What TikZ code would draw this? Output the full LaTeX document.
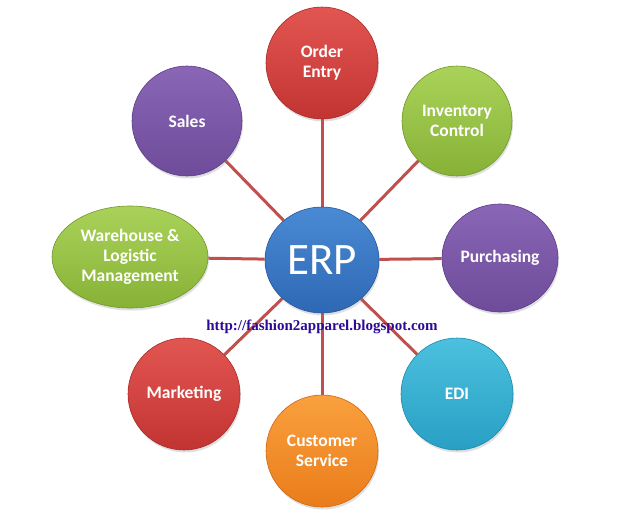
\documentclass[tikz,border=0pt]{standalone}
\usepackage{fontspec}
\setsansfont{Carlito}
\newfontfamily\blogfont{Liberation Serif}
\usetikzlibrary{shapes.geometric,shadows,backgrounds}

\definecolor{linkRed}{RGB}{192,80,77}
\definecolor{urlBlue}{RGB}{45,10,150}

\begin{document}
\begin{tikzpicture}[x=1pt,y=-1pt]
\tikzstyle{bubble}=[ellipse, inner sep=0pt, minimum width=112pt, minimum height=112pt, align=center, text=white, line width=0.6pt, font=\sffamily\bfseries\fontsize{17.5}{20}\selectfont, drop shadow={opacity=0.25, shadow xshift=1pt, shadow yshift=-2.5pt}]
\tikzstyle{redball}=[bubble, top color={rgb,255:red,226;green,86;blue,82}, bottom color={rgb,255:red,194;green,52;blue,50}, draw={rgb,255:red,170;green,40;blue,38}]
\tikzstyle{greenball}=[bubble, top color={rgb,255:red,170;green,210;blue,90}, bottom color={rgb,255:red,134;green,178;blue,54}, draw={rgb,255:red,112;green,152;blue,40}]
\tikzstyle{purpleball}=[bubble, top color={rgb,255:red,138;green,102;blue,182}, bottom color={rgb,255:red,110;green,76;blue,154}, draw={rgb,255:red,92;green,60;blue,134}]
\tikzstyle{tealball}=[bubble, top color={rgb,255:red,76;green,192;blue,222}, bottom color={rgb,255:red,40;green,160;blue,196}, draw={rgb,255:red,28;green,136;blue,170}]
\tikzstyle{orangeball}=[bubble, top color={rgb,255:red,250;green,160;blue,62}, bottom color={rgb,255:red,234;green,124;blue,26}, draw={rgb,255:red,206;green,104;blue,18}]
\tikzstyle{hub}=[bubble, minimum width=114pt, minimum height=106pt, font=\sffamily\fontsize{45}{50}\selectfont, top color={rgb,255:red,74;green,138;blue,212}, bottom color={rgb,255:red,46;green,104;blue,180}, draw={rgb,255:red,36;green,86;blue,156}]
\tikzstyle{connect}=[line width=3pt, draw=linkRed]

\useasboundingbox (0,0) rectangle (640,517);

\node[hub] (erp) at (322,260) {ERP};

\node[redball] (order) at (322,63) {Order\\Entry};
\node[greenball, minimum width=110pt, minimum height=110pt] (inventory) at (457,121) {Inventory\\Control};
\node[purpleball, minimum width=116pt, minimum height=108pt] (purchasing) at (500,258) {Purchasing};
\node[tealball] (edi) at (457,394) {EDI};
\node[orangeball] (customer) at (322,451) {Customer\\Service};
\node[redball] (marketing) at (184,394) {Marketing};
\node[greenball, minimum width=156pt, minimum height=102pt] (warehouse) at (130,257) {Warehouse \&\\Logistic\\Management};
\node[purpleball, minimum width=110pt, minimum height=110pt] (sales) at (187,121) {Sales};

\node[text=urlBlue, font=\blogfont\bfseries\fontsize{15}{18}\selectfont] (url) at (322,327) {http://fashion2apparel.blogspot.com};

\begin{scope}[on background layer]
\path
(erp) edge [connect] (order)
(erp) edge [connect] (inventory)
(erp) edge [connect] (purchasing)
(erp) edge [connect] (edi)
(erp) edge [connect] (customer)
(erp) edge [connect] (marketing)
(erp) edge [connect] (warehouse)
(erp) edge [connect] (sales);
\end{scope}
\end{tikzpicture}
\end{document}
